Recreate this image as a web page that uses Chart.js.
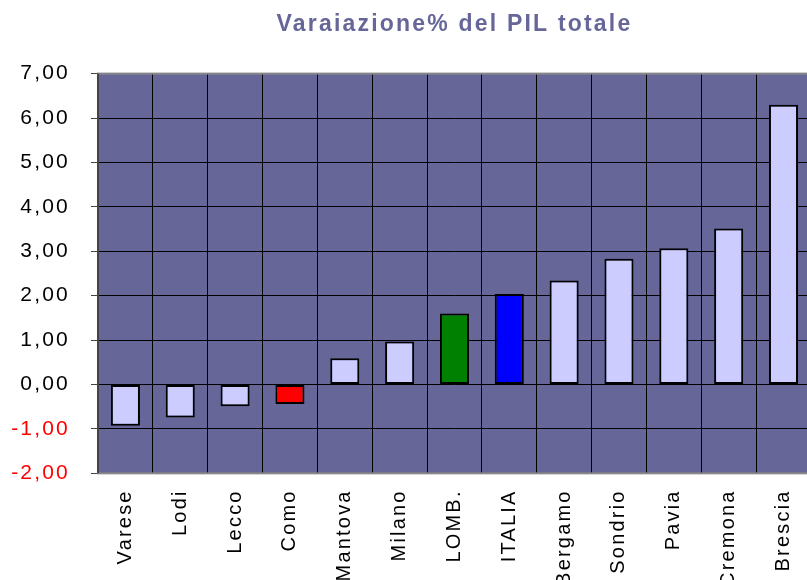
<!DOCTYPE html>
<html>
<head>
<meta charset="utf-8">
<script src="https://cdn.jsdelivr.net/npm/chart.js@4.4.1/dist/chart.umd.min.js"></script>
<style>
  body { margin: 0; background: #fff; overflow: hidden; }
  #wrap { width: 807px; height: 580px; overflow: hidden; }
</style>
</head>
<body>
<div id="wrap"><canvas id="myChart" width="824" height="605"></canvas></div>
<script>
const chartTitle = 'Varaiazione% del PIL totale';
const province = ['Varese', 'Lodi', 'Lecco', 'Como', 'Mantova', 'Milano', 'LOMB.', 'ITALIA', 'Bergamo', 'Sondrio', 'Pavia', 'Cremona', 'Brescia'];
const variazioni = [-0.93, -0.74, -0.49, -0.44, 0.59, 0.97, 1.60, 2.04, 2.34, 2.83, 3.07, 3.51, 6.30];
const barColors = ['#CCCCFF', '#CCCCFF', '#CCCCFF', '#FF0000', '#CCCCFF', '#CCCCFF', '#008000', '#0000FF', '#CCCCFF', '#CCCCFF', '#CCCCFF', '#CCCCFF', '#CCCCFF'];
const yMin = -2;
const yMax = 7;

// Excel-like wide letter spacing on every text
const spacing = {
    id: 'spacing',
    beforeLayout(chart) { chart.ctx.letterSpacing = '2.2px'; },
    beforeDraw(chart) { chart.ctx.letterSpacing = '2.2px'; }
};

// plot area background and outline
const plotBg = {
    id: 'plotBg',
    beforeDraw(chart) {
        const { ctx, chartArea: a } = chart;
        ctx.save();
        ctx.fillStyle = '#666699';
        ctx.fillRect(a.left, a.top, a.right - a.left, a.bottom - a.top);
        ctx.restore();
    },
    afterDraw(chart) {
        const { ctx, chartArea: a } = chart;
        ctx.save();
        ctx.strokeStyle = '#888888';
        ctx.lineWidth = 2;
        ctx.strokeRect(a.left, a.top, a.right - a.left, a.bottom - a.top);
        ctx.strokeStyle = '#444444';
        ctx.beginPath();
        ctx.moveTo(a.left, a.top);
        ctx.lineTo(a.left, a.bottom);
        ctx.stroke();
        ctx.restore();
    }
};

function makeChart() {
    const ctx = document.getElementById('myChart');

    new Chart(ctx, {
        type: 'bar',
        data: {
            labels: province,
            datasets: [{
                data: variazioni,
                backgroundColor: barColors,
                borderColor: '#000000',
                borderWidth: 2,
                borderSkipped: false,
                barPercentage: 0.53,
                categoryPercentage: 1
            }]
        },
        options: {
            responsive: false,
            animation: false,
            layout: { padding: { left: 12, right: 2, top: 0, bottom: 2 } },
            plugins: {
                legend: { display: false },
                tooltip: { enabled: false },
                title: {
                    display: true,
                    text: chartTitle,
                    fullSize: false,
                    color: '#666699',
                    font: { family: 'Liberation Sans, Arial', size: 23, weight: 'bold' },
                    padding: { top: 11, bottom: 35 }
                }
            },
            scales: {
                y: {
                    min: yMin,
                    max: yMax,
                    afterFit: (scale) => { scale.width = 86; },
                    ticks: {
                        stepSize: 1,
                        padding: 21,
                        color: (c) => c.tick.value < 0 ? '#FF0000' : '#000000',
                        font: { family: 'Liberation Sans, Arial', size: 21 },
                        callback: (v) => v.toFixed(2).replace('.', ',')
                    },
                    grid: { color: '#000000', lineWidth: 1, tickLength: 7, tickColor: '#444444' },
                    border: { display: false }
                },
                x: {
                    ticks: {
                        minRotation: 90,
                        maxRotation: 90,
                        autoSkip: false,
                        padding: 16,
                        color: '#000000',
                        font: { family: 'Liberation Sans, Arial', size: 20 }
                    },
                    grid: { color: '#000000', lineWidth: 1, drawTicks: false },
                    border: { display: false }
                }
            }
        },
        plugins: [spacing, plotBg]
    });
}

makeChart();
</script>
</body>
</html>
